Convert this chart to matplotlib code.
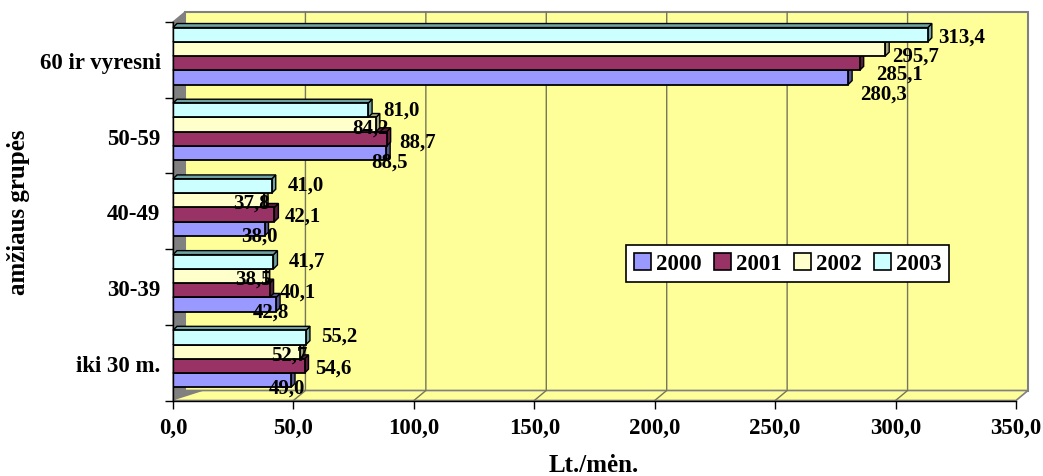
import matplotlib
matplotlib.use("Agg")
import matplotlib.pyplot as plt
from matplotlib.patches import Polygon, Patch
from matplotlib.transforms import IdentityTransform

plt.rcParams['font.family'] = ['Liberation Serif', 'DejaVu Serif']
plt.rcParams['font.weight'] = 'bold'

# data (Lt./mėn. by age group)
groups = ["iki 30 m.", "30-39", "40-49", "50-59", "60 ir vyresni"]
years = ["2000", "2001", "2002", "2003"]
v2000 = [49.0, 42.8, 38.0, 88.5, 280.3]
v2001 = [54.6, 40.1, 42.1, 88.7, 285.1]
v2002 = [52.7, 38.5, 37.8, 84.2, 295.7]
v2003 = [55.2, 41.7, 41.0, 81.0, 313.4]
x_ticks = [0, 50, 100, 150, 200, 250, 300, 350]

series = [v2000, v2001, v2002, v2003]
colors = ["#9999FF", "#993366", "#FFFFCC", "#CCFFFF"]
side_colors = ["#55558f", "#5a1d3c", "#a3a37a", "#6fa3a3"]
# rough excel-like label placement: (x shift, x stretch, y shift px, y shift per unit)
label_pos = [(-5, 0.07, 5, 0.04), (11, 0.02, 0, 0.035), (-8, 0.07, 1.5, 0.017), (14, 0.0, -2, 0.011)]

W, H = 1043, 477
fig = plt.figure(figsize=(W / 100, H / 100), dpi=100)
ax = fig.add_axes([173 / W, (H - 401.5) / H, 843 / W, 378.5 / H])
ax.set_xlim(0, 350)
ax.set_ylim(-0.5, 4.5)
ax.patch.set_visible(False)

DX, DY = 12, 10   # depth of the 3d box in pixels
BD = 4            # depth of the bars


def px(x, y, dx=0, dy=0):
    p = ax.transData.transform((x, y))
    return (p[0] + dx, p[1] + dy)


def poly(points, **kw):
    p = Polygon(points, closed=True, transform=IdentityTransform(), clip_on=False, **kw)
    ax.add_artist(p)


# back wall, side wall and floor
poly([px(0, -0.5, DX, DY), px(350, -0.5, DX, DY), px(350, 4.5, DX, DY), px(0, 4.5, DX, DY)],
     facecolor="#FFFF99", edgecolor="#808080", lw=1.5, zorder=0.5)
poly([px(0, -0.5), px(0, 4.5), px(0, 4.5, DX, DY), px(0, -0.5, DX, DY)],
     facecolor="#808080", edgecolor="#808080", lw=1, zorder=0.6)
poly([px(0, -0.5), px(350, -0.5), px(350, -0.5, DX, DY), px(0, -0.5, DX, DY)],
     facecolor="#FFFF99", edgecolor="#808080", lw=1.2, zorder=0.6)
poly([px(0, -0.5), px(0, -0.5, DX, DY), px(8, -0.5, DX, DY)],
     facecolor="#808080", edgecolor="none", zorder=0.65)

for t in x_ticks[1:-1]:
    a, b, c = px(t, -0.5), px(t, -0.5, DX, DY), px(t, 4.5, DX, DY)
    ax.plot([a[0], b[0], c[0]], [a[1], b[1], c[1]], color="#76765a", lw=1,
            transform=IdentityTransform(), clip_on=False, zorder=0.7)

# bars
h = 0.1885
ypos = list(range(len(groups)))
for k, vals in enumerate(series):
    ys = [y + 0.05 + (k - 1.5) * h for y in ypos]
    ax.barh(ys, vals, height=h, color=colors[k], edgecolor="black", lw=1.3, zorder=3 + k)
    for y, v in zip(ys, vals):
        yb, yt = y - h / 2, y + h / 2
        poly([px(v, yb), px(v, yt), px(v, yt, BD, BD), px(v, yb, BD, BD)],
             facecolor=side_colors[k], edgecolor="black", lw=1, zorder=2.5 + k)
        poly([px(0, yt), px(v, yt), px(v, yt, BD, BD), px(0, yt, BD, BD)],
             facecolor=side_colors[k], edgecolor="black", lw=1, zorder=2.5 + k)
        sx, st, sy0, sy1 = label_pos[k]
        ax.annotate(f"{v:.1f}".replace(".", ","), xy=(v * (1 + st) + sx, y),
                    xytext=(0, -(sy0 + sy1 * v) * 0.72), textcoords="offset points",
                    ha="center", va="center", fontsize=15, fontweight="bold",
                    zorder=20, annotation_clip=False)

# axes
for s in ["top", "right"]:
    ax.spines[s].set_visible(False)
for s in ["left", "bottom"]:
    ax.spines[s].set_linewidth(1)
    ax.spines[s].set_zorder(10)

ax.set_xticks(x_ticks)
ax.set_xticklabels([f"{t:.1f}".replace(".", ",") for t in x_ticks])
ax.tick_params(axis="x", direction="out", length=6, width=1, pad=6, labelsize=16.5)
ax.set_yticks(ypos)
ax.set_yticklabels(groups)
ax.tick_params(axis="y", which="major", length=0, pad=9, labelsize=16.5)
ax.set_yticks([y - 0.5 for y in ypos] + [4.5], minor=True)
ax.tick_params(axis="y", which="minor", direction="out", length=6, width=1)

fig.text(594 / W, 1 - 466 / H, "Lt./mėn.", ha="center", va="center", fontsize=18, fontweight="bold")
fig.text(19 / W, 1 - 212 / H, "amžiaus grupės", ha="center", va="center", rotation=90,
         fontsize=18, fontweight="bold")

handles = [Patch(facecolor=c, edgecolor="black", lw=1.2) for c in colors]
leg = fig.legend(handles, years, loc="center", bbox_to_anchor=(787.5 / W, 1 - 264.5 / H),
                 ncol=4, frameon=True, fancybox=False, edgecolor="black", framealpha=1,
                 prop={"size": 16.5, "weight": "bold"}, handlelength=0.75, handleheight=0.75,
                 handletextpad=0.2, columnspacing=0.55, borderpad=0.35)
leg.get_frame().set_linewidth(1.2)

fig.savefig("out.png", dpi=100)
